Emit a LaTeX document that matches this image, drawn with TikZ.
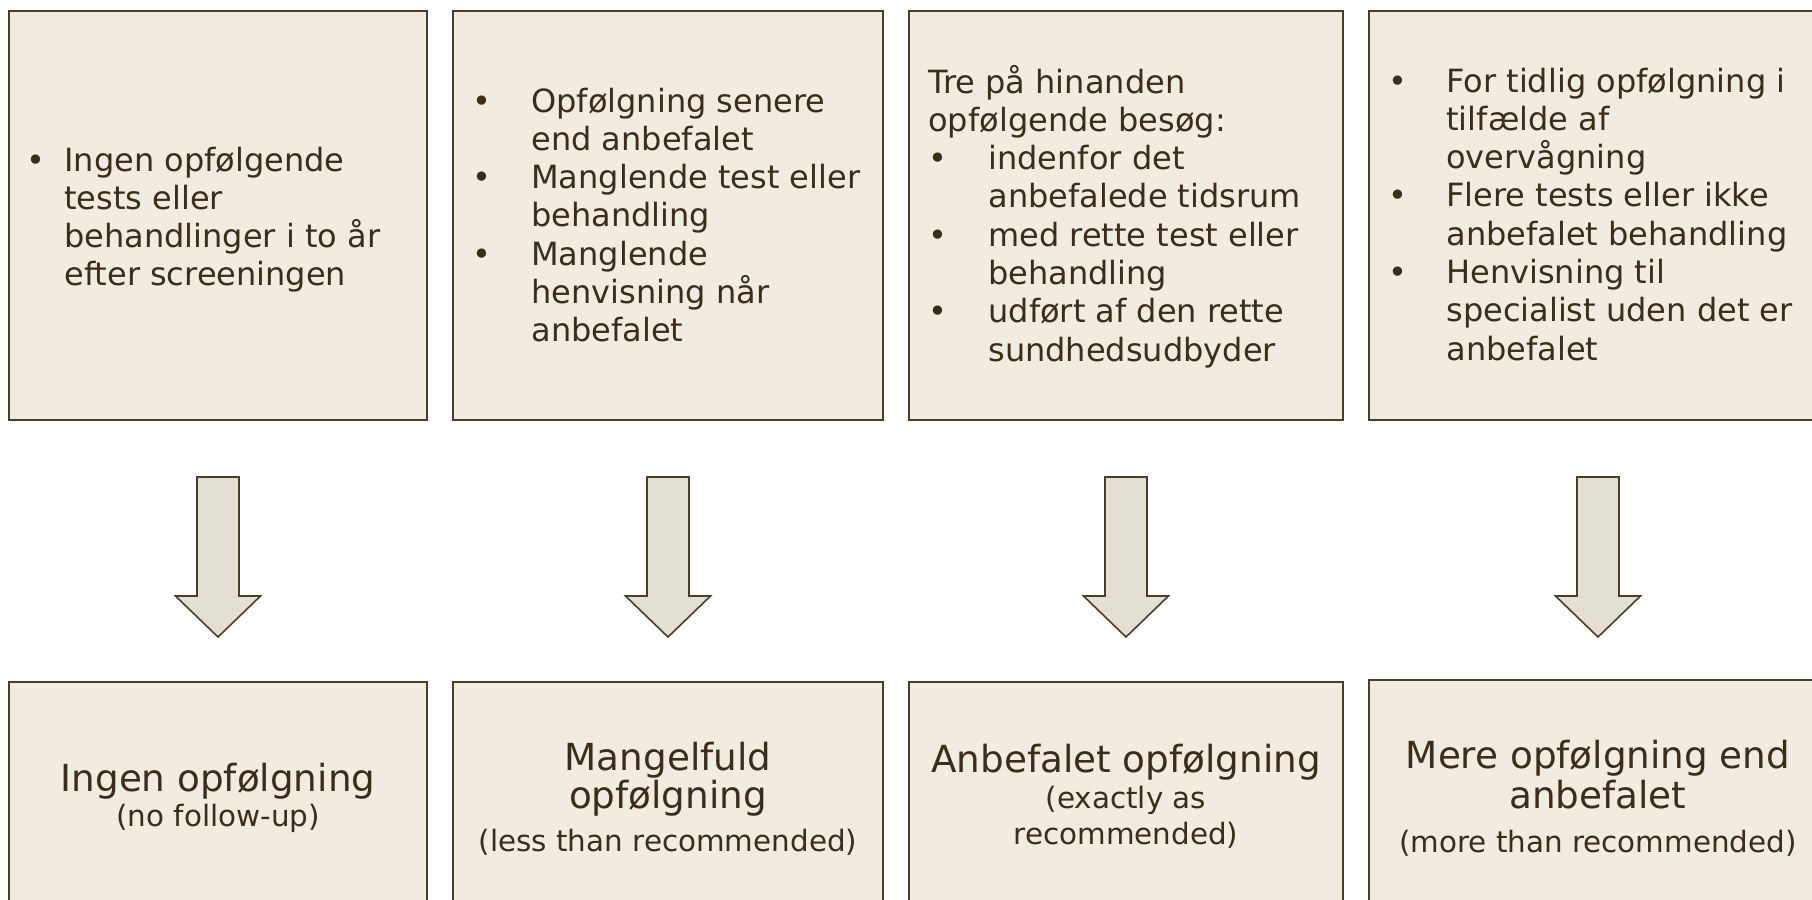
\documentclass[tikz,border=0pt]{standalone}
\usepackage{fontspec}
\setmainfont{DejaVu Sans}
\definecolor{boxfill}{HTML}{F2EBE1}
\definecolor{boxline}{HTML}{4B3D28}
\definecolor{arrfill}{HTML}{E3DFD5}
\definecolor{txtc}{HTML}{3A2D1C}
\newcommand\bulletline[2]{\hbox to #1{\textbullet\hfil}#2}
\newcommand\contline[2]{\hspace*{#1}#2}
\newcommand\topblock[1]{\vtop{\fontsize{16pt}{19.15pt}\selectfont\halign{##\hfil\cr#1\crcr}}}
\newcommand\cblock[3]{\vtop{\fontsize{#1}{#2}\selectfont\halign{\hfil##\hfil\cr#3\crcr}}}
\tikzset{
  panel/.style={draw=boxline, fill=boxfill, line width=0.8pt, inner sep=0pt, rectangle},
  txtnode/.style={inner sep=0pt, text=txtc},
  bigarrow/.style={draw=boxline, fill=arrfill, line width=0.8pt, line join=miter},
}
\begin{document}
\begin{tikzpicture}[x=0.5pt,y=-0.5pt]
\useasboundingbox (0,0) rectangle (1812,900);
% top panels
\node[panel, minimum width=209pt, minimum height=204.5pt] (t1) at (218,215.5) {};
\node[panel, minimum width=215pt, minimum height=204.5pt] (t2) at (668,215.5) {};
\node[panel, minimum width=217pt, minimum height=204.5pt] (t3) at (1126,215.5) {};
\node[panel, minimum width=229pt, minimum height=204.5pt] (t4) at (1598,215.5) {};
% bottom panels
\node[panel, minimum width=209pt, minimum height=113pt] (b1) at (218,795) {};
\node[panel, minimum width=215pt, minimum height=113pt] (b2) at (668,795) {};
\node[panel, minimum width=217pt, minimum height=113pt] (b3) at (1126,795) {};
\node[panel, minimum width=229pt, minimum height=114pt] (b4) at (1598,794) {};
% arrows
\foreach \cx in {218,668,1126,1598}{
  \draw[bigarrow] (\cx-21,477) -- (\cx+21,477) -- (\cx+21,596) -- (\cx+42.5,596)
     -- (\cx,637) -- (\cx-42.5,596) -- (\cx-21,596) -- cycle;
}
% top texts
\node[txtnode, anchor=base west] (x1) at (26,171) {\topblock{%
  \bulletline{19pt}{Ingen opfølgende}\cr
  \contline{19pt}{tests eller}\cr
  \contline{19pt}{behandlinger i to år}\cr
  \contline{19pt}{efter screeningen}}};
\node[txtnode, anchor=base west] (x2) at (472,112) {\topblock{%
  \bulletline{29.5pt}{Opfølgning senere}\cr
  \contline{29.5pt}{end anbefalet}\cr
  \bulletline{29.5pt}{Manglende test eller}\cr
  \contline{29.5pt}{behandling}\cr
  \bulletline{29.5pt}{Manglende}\cr
  \contline{29.5pt}{henvisning når}\cr
  \contline{29.5pt}{anbefalet}}};
\node[txtnode, anchor=base west] (x3) at (928,93) {\topblock{%
  Tre på hinanden\cr
  opfølgende besøg:\cr
  \bulletline{30pt}{indenfor det}\cr
  \contline{30pt}{anbefalede tidsrum}\cr
  \bulletline{30pt}{med rette test eller}\cr
  \contline{30pt}{behandling}\cr
  \bulletline{30pt}{udført af den rette}\cr
  \contline{30pt}{sundhedsudbyder}}};
\node[txtnode, anchor=base west] (x4) at (1388,92) {\topblock{%
  \bulletline{29pt}{For tidlig opfølgning i}\cr
  \contline{29pt}{tilfælde af}\cr
  \contline{29pt}{overvågning}\cr
  \bulletline{29pt}{Flere tests eller ikke}\cr
  \contline{29pt}{anbefalet behandling}\cr
  \bulletline{29pt}{Henvisning til}\cr
  \contline{29pt}{specialist uden det er}\cr
  \contline{29pt}{anbefalet}}};
% bottom texts
\node[txtnode, anchor=base] (y1) at (218,791) {\cblock{18.65pt}{19pt}{Ingen opfølgning}};
\node[txtnode, anchor=base] (z1) at (218,826) {\cblock{14.7pt}{18pt}{(no follow-up)}};
\node[txtnode, anchor=base] (y2) at (668,770) {\cblock{18.65pt}{19pt}{Mangelfuld\cr opfølgning}};
\node[txtnode, anchor=base] (z2) at (668,851) {\cblock{14.7pt}{18pt}{(less than recommended)}};
\node[txtnode, anchor=base] (y3) at (1126,772) {\cblock{18.65pt}{19pt}{Anbefalet opfølgning}};
\node[txtnode, anchor=base] (z3) at (1126,808) {\cblock{14.7pt}{18pt}{(exactly as\cr recommended)}};
\node[txtnode, anchor=base] (y4) at (1598,768) {\cblock{18.65pt}{20pt}{Mere opfølgning end\cr anbefalet}};
\node[txtnode, anchor=base] (z4) at (1598,852) {\cblock{14.7pt}{18pt}{(more than recommended)}};
\end{tikzpicture}
\end{document}
